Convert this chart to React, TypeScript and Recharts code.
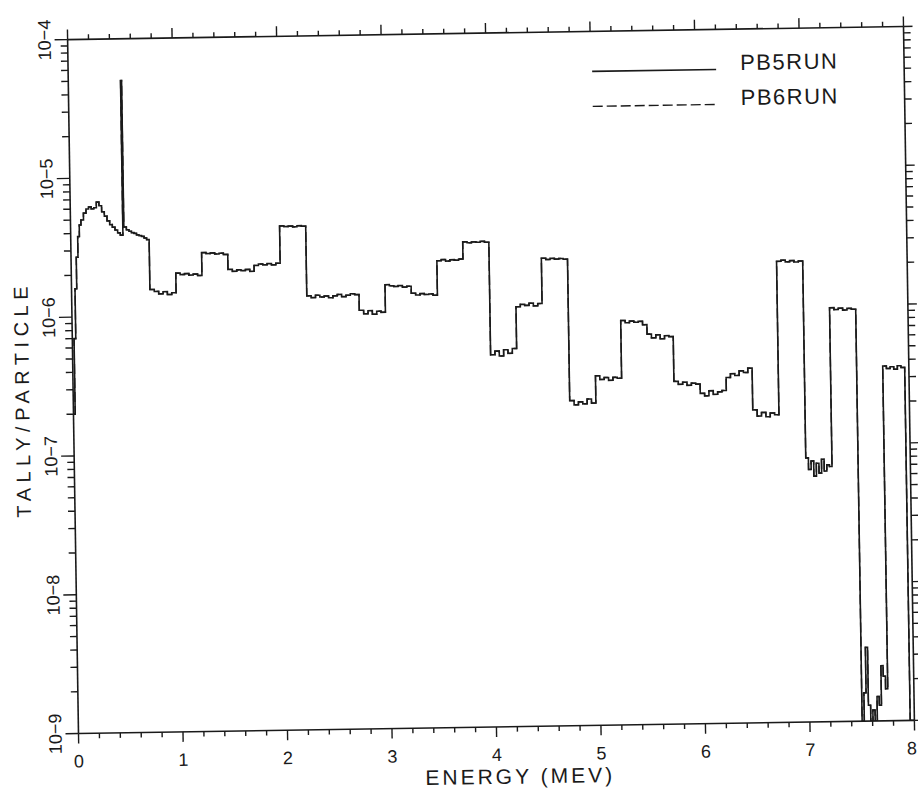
import { Label, Legend, Line, LineChart, XAxis, YAxis } from "recharts";

// histogram bins (MeV); each bin's channel values are spread evenly across it
const energyMax = 8;
const binStart = [
  0, 0.1, 0.5, 0.51, 0.75, 1.0, 1.25, 1.5, 1.75, 2.0, 2.25, 2.5, 2.75, 3.0, 3.25, 3.5, 3.75, 4.0,
  4.25, 4.5, 4.75, 5.0, 5.25, 5.5, 5.75, 6.0, 6.25, 6.5, 6.75, 7.0, 7.25, 7.5, 7.75, 7.96,
];

// PB5RUN tally per channel
const pb5Bins = [
  [2.0e-7, 7.0e-7, 1.6e-6, 2.7e-6, 3.8e-6, 4.6e-6],
  [5.0e-6, 5.6e-6, 6.0e-6, 6.2e-6, 6.0e-6, 6.1e-6, 6.7e-6, 6.3e-6, 5.7e-6, 5.3e-6, 4.9e-6, 4.6e-6, 4.4e-6, 4.2e-6, 4.0e-6, 3.85e-6],
  [5.0e-5],
  [4.4e-6, 4.2e-6, 4.1e-6, 4.0e-6, 3.95e-6, 3.85e-6, 3.8e-6, 3.75e-6, 3.65e-6, 3.55e-6],
  [1.55e-6, 1.5e-6, 1.44e-6, 1.49e-6, 1.42e-6, 1.46e-6],
  [2.02e-6, 1.97e-6, 2.0e-6, 1.95e-6, 1.98e-6, 1.93e-6],
  [2.82e-6, 2.77e-6, 2.8e-6, 2.75e-6, 2.78e-6, 2.72e-6],
  [2.12e-6, 2.05e-6, 2.1e-6, 2.07e-6, 2.11e-6, 2.04e-6],
  [2.25e-6, 2.3e-6, 2.27e-6, 2.31e-6, 2.26e-6, 2.32e-6],
  [4.3e-6, 4.25e-6, 4.28e-6, 4.22e-6, 4.3e-6, 4.26e-6],
  [1.34e-6, 1.3e-6, 1.35e-6, 1.31e-6, 1.33e-6, 1.29e-6],
  [1.33e-6, 1.36e-6, 1.31e-6, 1.34e-6, 1.37e-6, 1.35e-6],
  [1.04e-6, 0.98e-6, 1.03e-6, 0.97e-6, 1.02e-6, 1.0e-6],
  [1.58e-6, 1.55e-6, 1.53e-6, 1.55e-6, 1.51e-6, 1.53e-6],
  [1.36e-6, 1.32e-6, 1.35e-6, 1.33e-6, 1.34e-6, 1.31e-6],
  [2.32e-6, 2.36e-6, 2.3e-6, 2.35e-6, 2.33e-6, 2.37e-6],
  [3.15e-6, 3.1e-6, 3.14e-6, 3.12e-6, 3.16e-6, 3.11e-6],
  [4.8e-7, 5.1e-7, 4.7e-7, 5.2e-7, 4.9e-7, 5.3e-7],
  [1.06e-6, 1.1e-6, 1.08e-6, 1.12e-6, 1.07e-6, 1.11e-6],
  [2.35e-6, 2.3e-6, 2.34e-6, 2.31e-6, 2.33e-6, 2.3e-6],
  [2.2e-7, 2.05e-7, 2.15e-7, 2.08e-7, 2.25e-7, 2.1e-7],
  [3.3e-7, 3.1e-7, 3.2e-7, 3.05e-7, 3.2e-7, 3.15e-7],
  [8.2e-7, 7.9e-7, 8.1e-7, 7.95e-7, 8.05e-7, 7.6e-7],
  [6.5e-7, 6.1e-7, 6.4e-7, 6.0e-7, 6.3e-7, 6.2e-7],
  [2.95e-7, 2.8e-7, 2.9e-7, 2.75e-7, 2.85e-7, 2.8e-7],
  [2.4e-7, 2.3e-7, 2.5e-7, 2.35e-7, 2.45e-7, 2.5e-7],
  [3.1e-7, 3.3e-7, 3.2e-7, 3.45e-7, 3.35e-7, 3.6e-7],
  [1.8e-7, 1.62e-7, 1.72e-7, 1.6e-7, 1.7e-7, 1.65e-7],
  [2.1e-6, 2.14e-6, 2.08e-6, 2.12e-6, 2.07e-6, 2.1e-6],
  [8.0e-8, 6.6e-8, 7.6e-8, 5.9e-8, 7.3e-8, 6.2e-8, 7.8e-8, 6.4e-8, 7.1e-8, 6.9e-8],
  [9.6e-7, 9.3e-7, 9.5e-7, 9.2e-7, 9.45e-7, 9.3e-7],
  [1e-9, 1.6e-9, 3.4e-9, 1.3e-9, 1e-9, 1.2e-9, 1e-9, 1.5e-9, 1.3e-9, 2.5e-9, 2.1e-9, 1.7e-9],
  [3.6e-7, 3.45e-7, 3.55e-7, 3.4e-7, 3.6e-7, 3.5e-7],
  [1e-9],
];
// PB6RUN lies on top of PB5RUN everywhere in the plot
const pb6Bins = pb5Bins;

const xMajor = [0, 1, 2, 3, 4, 5, 6, 7, 8];
const xMinorSteps = [0.2, 0.4, 0.6, 0.8];
const decades = [-9, -8, -7, -6, -5, -4];
const mantissas = [1, 2, 3, 4, 5, 6, 7, 8, 9];

const rows: { e: number; pb5: number; pb6: number }[] = [];
binStart.forEach((start, i) => {
  const end = i + 1 < binStart.length ? binStart[i + 1] : energyMax;
  const vals = pb5Bins[i];
  vals.forEach((v, j) => {
    rows.push({ e: start + (j * (end - start)) / vals.length, pb5: v, pb6: pb6Bins[i][j] });
  });
});
const lastBin = pb5Bins[pb5Bins.length - 1];
rows.push({ e: energyMax, pb5: lastBin[lastBin.length - 1], pb6: lastBin[lastBin.length - 1] });

const xTicks: number[] = [];
xMajor.forEach((m) => {
  xTicks.push(m);
  if (m < energyMax) xMinorSteps.forEach((s) => xTicks.push(m + s));
});
const yTicks: number[] = [];
decades.forEach((d) => {
  mantissas.forEach((m) => {
    if (d < -4 || m === 1) yTicks.push(m * Math.pow(10, d));
  });
});

const FONT = "'Liberation Sans', Arial, sans-serif";
const INK = "#1a1a1a";

const isDecade = (v: number) => Math.abs(Math.log10(v) - Math.round(Math.log10(v))) < 1e-6;

const AxisTick = (props: any) => {
  const { x, y, payload, side } = props;
  const v = payload.value as number;
  if (side === "bottom" || side === "top") {
    const major = Math.abs(v - Math.round(v)) < 1e-6;
    const len = major ? 10 : 5;
    const dir = side === "bottom" ? 1 : -1;
    // the last label sits on the page edge; nudge it inward
    const lx = v >= energyMax ? x - 3 : x;
    return (
      <g>
        <line x1={x} y1={y} x2={x} y2={y + dir * len} stroke={INK} strokeWidth={1.4} />
        {side === "bottom" && major && (
          <text x={lx} y={y + 34} textAnchor="middle" fontSize={18} fontFamily={FONT} fill={INK}>
            {Math.round(v)}
          </text>
        )}
      </g>
    );
  }
  const major = isDecade(v);
  const len = major ? 13 : 7;
  const dir = side === "left" ? -1 : 1;
  const exp = Math.round(Math.log10(v));
  return (
    <g>
      <line x1={x} y1={y} x2={x + dir * len} y2={y} stroke={INK} strokeWidth={1.4} />
      {side === "left" && major && (
        <text
          x={x - 17}
          y={y}
          transform={`rotate(-90 ${x - 17} ${y})`}
          textAnchor="middle"
          fontSize={18}
          fontFamily={FONT}
          fill={INK}
        >
          {`10\u2212${-exp}`}
        </text>
      )}
    </g>
  );
};

const LegendBox = () => (
  <svg width={918} height={130} style={{ display: "block" }}>
    <line x1={597} y1={73} x2={721} y2={73} stroke={INK} strokeWidth={1.6} />
    <text x={745} y={74} fontSize={22} fontFamily={FONT} fill={INK} letterSpacing={1.5}>
      PB5RUN
    </text>
    <line x1={597} y1={108} x2={721} y2={108} stroke={INK} strokeWidth={1.4} strokeDasharray="10 4" />
    <text x={745} y={109} fontSize={22} fontFamily={FONT} fill={INK} letterSpacing={1.5}>
      PB6RUN
    </text>
  </svg>
);

const App = () => (
  <div
    style={{
      position: "absolute",
      left: 0,
      top: 0,
      width: 918,
      height: 792,
      background: "#fff",
      transform: "rotate(-0.9deg)",
      transformOrigin: "491px 380px",
    }}
  >
    <LineChart width={918} height={792} data={rows} margin={{ top: 32, right: 8, bottom: 64, left: 72 }}>
      <XAxis
        dataKey="e"
        type="number"
        domain={[0, energyMax]}
        ticks={xTicks}
        interval={0}
        height={1}
        tickSize={0}
        tickMargin={0}
        tickLine={false}
        axisLine={{ stroke: INK, strokeWidth: 1.6 }}
        tick={<AxisTick side="bottom" />}
      >
        <Label
          content={() => (
            <text x={514} y={784} textAnchor="middle" fontSize={21} fontFamily={FONT} fill={INK} letterSpacing={3}>
              ENERGY (MEV)
            </text>
          )}
        />
      </XAxis>
      <XAxis
        xAxisId="top"
        orientation="top"
        dataKey="e"
        type="number"
        domain={[0, energyMax]}
        ticks={xTicks}
        interval={0}
        height={1}
        tickSize={0}
        tickMargin={0}
        tickLine={false}
        axisLine={{ stroke: INK, strokeWidth: 1.6 }}
        tick={<AxisTick side="top" />}
      />
      <YAxis
        type="number"
        scale="log"
        domain={[1e-9, 1e-4]}
        allowDataOverflow
        ticks={yTicks}
        interval={0}
        width={1}
        tickSize={0}
        tickMargin={0}
        tickLine={false}
        axisLine={{ stroke: INK, strokeWidth: 1.6 }}
        tick={<AxisTick side="left" />}
      >
        <Label
          content={() => (
            <text
              x={29}
              y={392}
              transform="rotate(-90 29 392)"
              textAnchor="middle"
              fontSize={20}
              fontFamily={FONT}
              fill={INK}
              letterSpacing={5.5}
            >
              TALLY/PARTICLE
            </text>
          )}
        />
      </YAxis>
      <YAxis
        yAxisId="right"
        orientation="right"
        type="number"
        scale="log"
        domain={[1e-9, 1e-4]}
        allowDataOverflow
        ticks={yTicks}
        interval={0}
        width={1}
        tickSize={0}
        tickMargin={0}
        tickLine={false}
        axisLine={{ stroke: INK, strokeWidth: 1.6 }}
        tick={<AxisTick side="right" />}
      />
      <Legend
        layout="horizontal"
        verticalAlign="middle"
        align="center"
        content={() => <LegendBox />}
        wrapperStyle={{ left: 0, top: 0, width: 918, height: 130 }}
      />
      <Line
        dataKey="pb6"
        name="PB6RUN"
        type="stepAfter"
        stroke={INK}
        strokeWidth={1.4}
        strokeDasharray="10 4"
        dot={false}
        isAnimationActive={false}
      />
      <Line
        dataKey="pb5"
        name="PB5RUN"
        type="stepAfter"
        stroke={INK}
        strokeWidth={1.6}
        dot={false}
        isAnimationActive={false}
      />
    </LineChart>
  </div>
);

export default App;
